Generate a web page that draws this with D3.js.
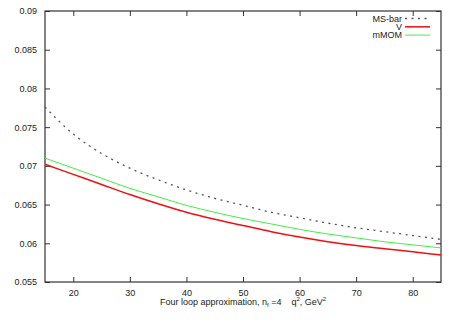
<!DOCTYPE html>
<html>
<head>
<meta charset="utf-8">
<script src="https://cdn.jsdelivr.net/npm/d3@7"></script>
<style>
  body { margin: 0; background: #fff; }
  text { font-family: "Liberation Sans", Arial, sans-serif; }
</style>
</head>
<body>
<svg width="457" height="320"></svg>
<script>
// q^2 values (GeV^2)
let q2 = [15, 20, 25, 30, 35, 40, 45, 50, 55, 60, 65, 70, 75, 80, 85];
// coupling values
let msbar = [0.0776, 0.0741, 0.0716, 0.0697, 0.0682, 0.0669, 0.0658, 0.0649, 0.0640, 0.0633, 0.0626, 0.0620, 0.0615, 0.0610, 0.0605];
let vScheme = [0.0702, 0.0689, 0.0676, 0.0663, 0.0651, 0.0640, 0.0631, 0.0623, 0.0615, 0.0608, 0.0602, 0.0597, 0.0593, 0.0589, 0.0585];
let mmom = [0.0710, 0.0697, 0.0684, 0.0671, 0.0660, 0.0649, 0.0640, 0.0632, 0.0625, 0.0618, 0.0612, 0.0607, 0.0602, 0.0598, 0.0594];
let xTicks = [20, 30, 40, 50, 60, 70, 80];
let yTicks = [0.055, 0.06, 0.065, 0.07, 0.075, 0.08, 0.085, 0.09];

let margin = {top: 11, right: 16, bottom: 38, left: 45};
let width = 457 - margin.left - margin.right;
let height = 320 - margin.top - margin.bottom;

let x = d3.scaleLinear().domain([15, 85]).range([0, width]);
let y = d3.scaleLinear().domain([0.055, 0.09]).range([height, 0]);

let svg = d3.select("svg").append("g")
    .attr("transform", "translate(" + margin.left + "," + margin.top + ")");

// axes, ticks pointing inward on all four sides
function styleAxis(g) {
  g.select(".domain").remove();
  g.selectAll(".tick line").attr("stroke", "#333");
  g.selectAll(".tick text").attr("fill", "#222").style("font-size", "9px");
}

svg.append("g")
    .attr("transform", "translate(0," + height + ")")
    .call(d3.axisBottom(x).tickValues(xTicks).tickSizeInner(-5).tickPadding(8).tickFormat(d3.format("d")))
    .call(styleAxis);
svg.append("g")
    .call(d3.axisTop(x).tickValues(xTicks).tickSizeInner(-5).tickFormat(""))
    .call(styleAxis);
svg.append("g")
    .call(d3.axisLeft(y).tickValues(yTicks).tickSizeInner(-5).tickPadding(8).tickFormat(d => d3.format("")(+d.toFixed(3))))
    .call(styleAxis);
svg.append("g")
    .attr("transform", "translate(" + width + ",0)")
    .call(d3.axisRight(y).tickValues(yTicks).tickSizeInner(-5).tickFormat(""))
    .call(styleAxis);

svg.append("rect")
    .attr("width", width).attr("height", height)
    .attr("fill", "none").attr("stroke", "#333").attr("stroke-width", 1.2);

// curves
let series = [
  {name: "MS-bar", values: msbar, color: "#555", width: 1.3, dash: "2,4.5"},
  {name: "V", values: vScheme, color: "#f01010", width: 1.5, dash: null},
  {name: "mMOM", values: mmom, color: "#40f040", width: 1, dash: null}
];

let line = d3.line()
    .x((d, i) => x(q2[i]))
    .y(d => y(d))
    .curve(d3.curveMonotoneX);

svg.selectAll(".curve")
    .data(series)
    .enter().append("path")
    .attr("class", "curve")
    .attr("fill", "none")
    .attr("stroke", d => d.color)
    .attr("stroke-width", d => d.width)
    .attr("stroke-dasharray", d => d.dash)
    .attr("d", d => line(d.values));

// legend
let legend = svg.selectAll(".legend")
    .data(series)
    .enter().append("g")
    .attr("class", "legend")
    .attr("transform", (d, i) => "translate(0," + (7.5 + i * 8.3) + ")");

legend.append("text")
    .attr("x", 357)
    .attr("y", 0)
    .attr("dy", "0.35em")
    .attr("text-anchor", "end")
    .style("font-size", "9px")
    .attr("fill", "#222")
    .text(d => d.name);

legend.append("line")
    .attr("x1", 360).attr("x2", 385)
    .attr("y1", 0).attr("y2", 0)
    .attr("stroke", d => d.color)
    .attr("stroke-width", d => d.width)
    .attr("stroke-dasharray", d => d.dash);

// x axis title
let title = svg.append("text")
    .attr("x", width / 2)
    .attr("y", height + 23)
    .attr("text-anchor", "middle")
    .style("font-size", "9px")
    .style("white-space", "pre")
    .attr("fill", "#222");
title.append("tspan").text("Four loop approximation, n");
title.append("tspan").attr("dy", 2).style("font-size", "6px").text("f");
title.append("tspan").attr("dy", -2).text(" =4    q");
title.append("tspan").attr("dy", -4).style("font-size", "6px").text("2");
title.append("tspan").attr("dy", 4).text(", GeV");
title.append("tspan").attr("dy", -4).style("font-size", "6px").text("2");
</script>
</body>
</html>
